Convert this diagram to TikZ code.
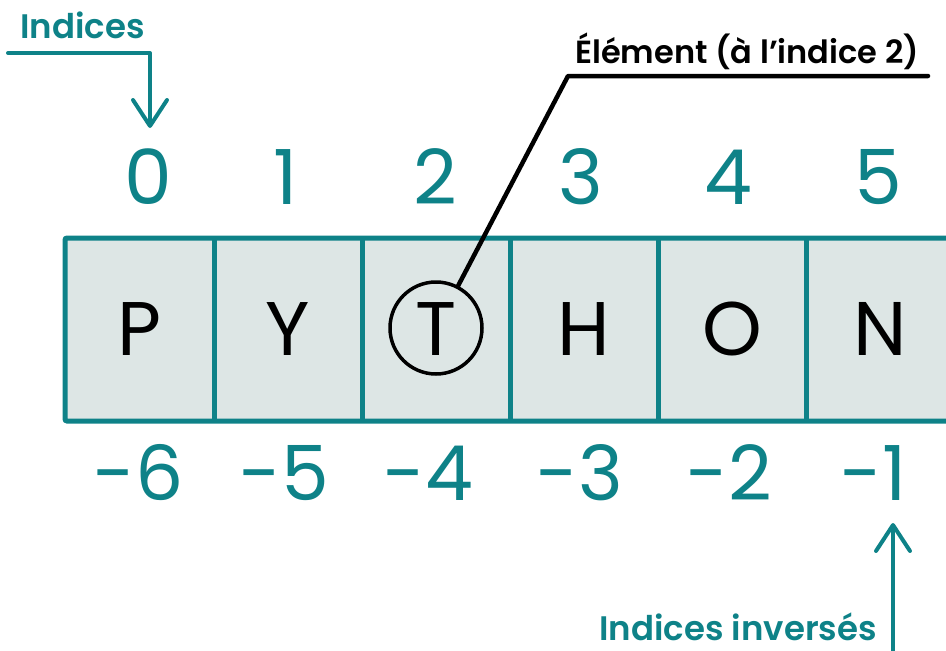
\documentclass[tikz,border=0pt]{standalone}
\usepackage{fontspec}
\setmainfont{Poppins}
\IfFontExistsTF{Poppins SemiBold}{\newfontfamily\semib{Poppins SemiBold}}{%
  \IfFontExistsTF{Poppins Medium}{\newfontfamily\semib{Poppins Medium}}{\newcommand\semib{\bfseries}}}
\usetikzlibrary{arrows.meta}
\definecolor{teal1}{HTML}{0E8288}
\definecolor{cellfill}{HTML}{DDE6E5}
\begin{document}
\begin{tikzpicture}[x=1pt,y=-1pt,
  big/.style={inner sep=0pt, font=\fontsize{76}{80}\selectfont},
  idx/.style={big, text=teal1},
  letter/.style={big, text=black},
  lab/.style={inner sep=0pt, text=teal1, font=\fontsize{34}{40}\selectfont\semib},
  tarrow/.style={draw=teal1, line width=4pt, line cap=round, line join=round,
     -{Straight Barb[length=26pt,width=34pt,line cap=round,line join=round]}},
]
\useasboundingbox (0,0) rectangle (946,651);
\begin{scope}
\clip (0,0) rectangle (946,651);
% array box
\draw[draw=teal1, fill=cellfill, line width=5pt, rounded corners=2pt] (65,238) rectangle (960,421);
\foreach \x in {214,362,510,658,806}
  \draw[teal1, line width=5pt] (\x,238) -- (\x,421);
\end{scope}
% letters
\node[letter] (l0) at (140,329) {P};
\node[letter] (l1) at (288,329) {Y};
\node[letter] (l3) at (584,329) {H};
\node[letter] (l4) at (732,329) {O};
\node[letter] (l5) at (880,329) {N};
\node[letter] (l2) at (436,329) {T};
\node[draw=black, line width=3.5pt, circle, minimum size=92pt, inner sep=0pt] (tc) at (436,328) {};
% indices
\node[idx] (i0) at (148,177) {0};
\node[idx] (i1) at (286,177) {1};
\node[idx] (i2) at (435,177) {2};
\node[idx] (i3) at (581,177) {3};
\node[idx] (i4) at (728,177) {4};
\node[idx] (i5) at (878,177) {5};
% negative indices
\node[idx] (n0) at (139,473) {-6};
\node[idx] (n1) at (284,473) {-5};
\node[idx] (n2) at (428,473) {-4};
\node[idx] (n3) at (580,473) {-3};
\node[idx] (n4) at (729,473) {-2};
\node[idx] (n5) at (874,473) {-1};
% labels
\node[lab, anchor=base west] (lind) at (20,38) {Indices};
\node[lab, anchor=base east] (linv) at (877,640) {Indices inversés};
\node[inner sep=0pt, anchor=base west, text=black, font=\fontsize{32}{36}\selectfont\semib] (lel) at (575,63) {Élément (à l’indice 2)};
% element pointer
\coordinate (ec) at (568,76);
\coordinate (ee) at (928,76);
\draw[black, line width=4.5pt, line cap=round, line join=round] (tc) -- (ec) -- (ee);
% arrows
\coordinate (a0) at (8,53);
\coordinate (a1) at (150,53);
\coordinate (a2) at (150,128);
\draw[tarrow] (a0) -- (a1) -- (a2);
\coordinate (b0) at (893,660);
\coordinate (b1) at (893,523);
\draw[tarrow] (b0) -- (b1);
\end{tikzpicture}
\end{document}
